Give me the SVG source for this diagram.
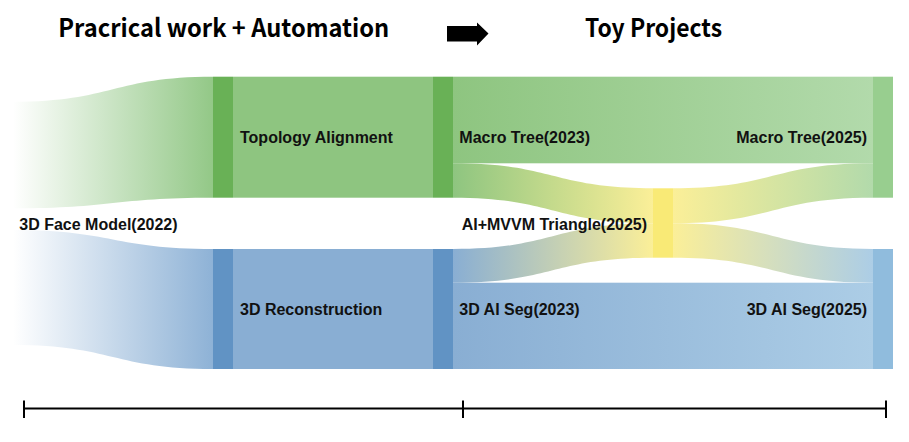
<svg xmlns="http://www.w3.org/2000/svg" width="909" height="442" viewBox="0 0 909 442">
<style>
.lbl{font-family:"Liberation Sans",Arial,sans-serif;font-weight:bold;font-size:16px;fill:#111}
.title{font-family:"Noto Sans CJK KR","Liberation Sans",sans-serif;font-weight:bold;font-size:25px;fill:#000}
.axis{stroke:#000;stroke-width:2;fill:none}
</style>
<defs>
<linearGradient id="gFaceG" x1="13" y1="0" x2="213" y2="0" gradientUnits="userSpaceOnUse"><stop offset="0" stop-color="#ffffff"/><stop offset="1" stop-color="#93c887"/></linearGradient>
<linearGradient id="gFaceB" x1="13" y1="0" x2="213" y2="0" gradientUnits="userSpaceOnUse"><stop offset="0" stop-color="#ffffff"/><stop offset="1" stop-color="#8eb2d6"/></linearGradient>
<linearGradient id="gMacro" x1="453" y1="0" x2="873" y2="0" gradientUnits="userSpaceOnUse"><stop offset="0" stop-color="#8ec580"/><stop offset="1" stop-color="#b2daab"/></linearGradient>
<linearGradient id="gSeg" x1="453" y1="0" x2="873" y2="0" gradientUnits="userSpaceOnUse"><stop offset="0" stop-color="#89aed3"/><stop offset="1" stop-color="#accde6"/></linearGradient>
<linearGradient id="gGY" x1="453" y1="0" x2="653" y2="0" gradientUnits="userSpaceOnUse"><stop offset="0" stop-color="#8ec580"/><stop offset="1" stop-color="#fbef98"/></linearGradient>
<linearGradient id="gBY" x1="453" y1="0" x2="653" y2="0" gradientUnits="userSpaceOnUse"><stop offset="0" stop-color="#89aed3"/><stop offset="1" stop-color="#fbef98"/></linearGradient>
<linearGradient id="gYG" x1="673" y1="0" x2="873" y2="0" gradientUnits="userSpaceOnUse"><stop offset="0" stop-color="#fbef98"/><stop offset="1" stop-color="#b2daab"/></linearGradient>
<linearGradient id="gYB" x1="673" y1="0" x2="873" y2="0" gradientUnits="userSpaceOnUse"><stop offset="0" stop-color="#fbef98"/><stop offset="1" stop-color="#accde6"/></linearGradient>
</defs>

<g id="headers">
<text class="title" x="58.3" y="37" textLength="331" lengthAdjust="spacingAndGlyphs">Pracrical work + Automation</text>
<polygon points="447,26 477,26 477,22.5 488.5,33.5 477,45.5 477,41.5 447,41.5" fill="#000"/>
<text class="title" x="585" y="37" textLength="137" lengthAdjust="spacingAndGlyphs">Toy Projects</text>
</g>

<g id="connectors">
<path d="M13,101.7 C113,101.7 113,76.7 213,76.7 L213,197.7 C113,197.7 113,208.3 13,208.3 Z" fill="url(#gFaceG)"/>
<path d="M13,230 C113,230 113,249 213,249 L213,369 C113,369 113,345 13,345 Z" fill="url(#gFaceB)"/>
<rect x="233" y="76.7" width="200" height="121" fill="#8ec580"/>
<rect x="233" y="249" width="200" height="120" fill="#89aed3"/>
<rect x="453" y="76.7" width="420" height="86.6" fill="url(#gMacro)"/>
<rect x="453" y="282.7" width="420" height="86.3" fill="url(#gSeg)"/>
<path d="M453,163.3 C553,163.3 553,188.3 653,188.3 L653,223.3 C553,223.3 553,197.7 453,197.7 Z" fill="url(#gGY)"/>
<path d="M453,249 C553,249 553,223.3 653,223.3 L653,257.7 C553,257.7 553,282.7 453,282.7 Z" fill="url(#gBY)"/>
<path d="M673,188.3 C773,188.3 773,163.3 873,163.3 L873,197.7 C773,197.7 773,223.3 673,223.3 Z" fill="url(#gYG)"/>
<path d="M673,223.3 C773,223.3 773,249 873,249 L873,282.7 C773,282.7 773,257.7 673,257.7 Z" fill="url(#gYB)"/>
</g>

<g id="node-face"><text class="lbl" x="19.3" y="229.5">3D Face Model(2022)</text></g>
<g id="node-topology"><rect x="213" y="76.7" width="20" height="121" fill="#69b156"/><text class="lbl" x="240" y="143">Topology Alignment</text></g>
<g id="node-recon"><rect x="213" y="249" width="20" height="120" fill="#6193c4"/><text class="lbl" x="240" y="315">3D Reconstruction</text></g>
<g id="node-macro2023"><rect x="433" y="76.7" width="20" height="121" fill="#69b156"/><text class="lbl" x="459.3" y="143">Macro Tree(2023)</text></g>
<g id="node-seg2023"><rect x="433" y="249" width="20" height="120" fill="#6193c4"/><text class="lbl" x="459.3" y="315">3D AI Seg(2023)</text></g>
<g id="node-mvvm"><rect x="653" y="188.3" width="20" height="69.4" fill="#f9ea76"/><text class="lbl" x="461.7" y="229.5">AI+MVVM Triangle(2025)</text></g>
<g id="node-macro2025"><rect x="873" y="76.7" width="20" height="121" fill="#98ce8f"/><text class="lbl" x="867" y="143" text-anchor="end">Macro Tree(2025)</text></g>
<g id="node-seg2025"><rect x="873" y="249" width="20" height="120" fill="#90bcdd"/><text class="lbl" x="867" y="315" text-anchor="end">3D AI Seg(2025)</text></g>

<g id="timeline">
<line class="axis" x1="24" y1="408.5" x2="886" y2="408.5"/>
<line class="axis" x1="24" y1="400.5" x2="24" y2="418"/>
<line class="axis" x1="463" y1="400.5" x2="463" y2="418"/>
<line class="axis" x1="886" y1="400.5" x2="886" y2="418"/>
</g>
</svg>
